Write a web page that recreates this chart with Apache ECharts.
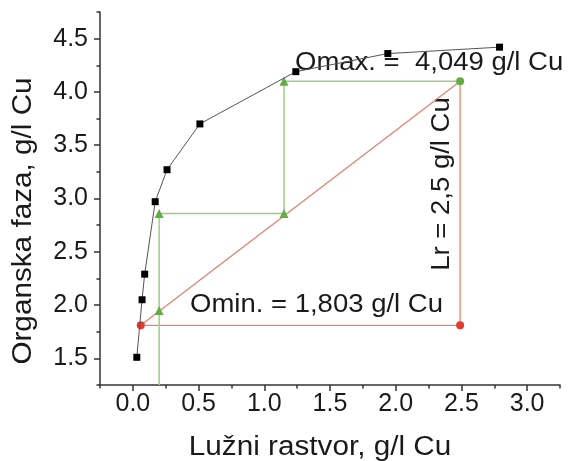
<!DOCTYPE html>
<html>
<head>
<meta charset="utf-8">
<script src="https://cdn.jsdelivr.net/npm/echarts@6/dist/echarts.min.js"></script>
<style>
  html, body { margin: 0; padding: 0; background: #fff; }
  #chart { width: 570px; height: 461px; }
</style>
</head>
<body>
<div id="chart"></div>
<script>
// equilibrium curve (black squares)
const curveX = [0.03, 0.07, 0.09, 0.17, 0.26, 0.51, 1.24, 1.94, 2.79];
const curveY = [1.51, 2.05, 2.29, 2.97, 3.27, 3.70, 4.19, 4.36, 4.42];

// operating line triangle (red): top -> Omin -> right bottom -> top
const operX = [2.49, 0.06, 2.49, 2.49];
const operY = [4.10, 1.81, 1.81, 4.10];

// steps (green)
const stepX = [0.2, 0.2, 0.2, 1.15, 1.15, 2.49];
const stepY = [1.25, 1.95, 2.86, 2.86, 4.10, 4.10];

// tick labels
const xMajor = [0.0, 0.5, 1.0, 1.5, 2.0, 2.5, 3.0];
const xMinor = [-0.25, 0.25, 0.75, 1.25, 1.75, 2.25, 2.75, 3.25];
const yMajor = [1.5, 2.0, 2.5, 3.0, 3.5, 4.0, 4.5];
const yMinor = [1.25, 1.75, 2.25, 2.75, 3.25, 3.75, 4.25, 4.75];

const labels = {
  xTitle: "Lužni rastvor, g/l Cu",
  yTitle: "Organska faza, g/l Cu",
  omax: "Omax. =  4,049 g/l Cu",
  omin: "Omin. = 1,803 g/l Cu",
  lr: "Lr = 2,5 g/l Cu",
};

const FONT = '"Liberation Sans", Arial, sans-serif';
const zip = (xs, ys) => xs.map((x, i) => [x, ys[i]]);

const chart = echarts.init(document.getElementById("chart"));

const tickStyle = { color: "#333", width: 1.5 };
const axisLine = { show: true, onZero: false, lineStyle: { color: "#333", width: 1.5 } };
const noLine = { show: false, onZero: false };

chart.setOption({
  animation: false,
  backgroundColor: "#fff",
  grid: { left: 100, right: 10, top: 12, bottom: 76, containLabel: false },
  xAxis: [
    {
      type: "value",
      position: "bottom",
      min: -0.25,
      max: 3.25,
      axisLine: axisLine,
      splitLine: { show: false },
      axisTick: { customValues: xMajor, length: 6, lineStyle: tickStyle },
      axisLabel: {
        customValues: xMajor,
        formatter: (v) => v.toFixed(1),
        fontSize: 25,
        fontFamily: FONT,
        color: "#1a1a1a",
        margin: 7,
      },
    },
    {
      type: "value",
      position: "bottom",
      min: -0.25,
      max: 3.25,
      axisLine: noLine,
      splitLine: { show: false },
      axisTick: { customValues: xMinor, length: 3.5, lineStyle: tickStyle },
      axisLabel: { show: false },
    },
  ],
  yAxis: [
    {
      type: "value",
      position: "left",
      min: 1.25,
      max: 4.75,
      axisLine: axisLine,
      splitLine: { show: false },
      axisTick: { customValues: yMajor, length: 6, lineStyle: tickStyle },
      axisLabel: {
        customValues: yMajor,
        formatter: (v) => v.toFixed(1),
        fontSize: 25,
        fontFamily: FONT,
        color: "#1a1a1a",
        margin: 12,
      },
    },
    {
      type: "value",
      position: "left",
      min: 1.25,
      max: 4.75,
      axisLine: noLine,
      splitLine: { show: false },
      axisTick: { customValues: yMinor, length: 3.5, lineStyle: tickStyle },
      axisLabel: { show: false },
    },
  ],
  graphic: [
    {
      type: "text",
      x: 320,
      y: 448,
      scaleX: 1.1,
      style: { text: labels.xTitle, font: "27px " + FONT, fill: "#1a1a1a", align: "center", verticalAlign: "middle" },
    },
    {
      type: "text",
      x: 24,
      y: 221,
      rotation: Math.PI / 2,
      scaleX: 1.1,
      style: { text: labels.yTitle, font: "27px " + FONT, fill: "#1a1a1a", align: "center", verticalAlign: "middle" },
    },
    {
      type: "text",
      x: 295,
      y: 63,
      scaleX: 1.1,
      z: 1,
      style: { text: labels.omax, font: "25px " + FONT, fill: "#1a1a1a", align: "left", verticalAlign: "middle" },
    },
    {
      type: "text",
      x: 190,
      y: 305,
      scaleX: 1.1,
      style: { text: labels.omin, font: "25px " + FONT, fill: "#1a1a1a", align: "left", verticalAlign: "middle" },
    },
    {
      type: "text",
      x: 442,
      y: 184,
      rotation: Math.PI / 2,
      scaleX: 1.1,
      style: { text: labels.lr, font: "25px " + FONT, fill: "#1a1a1a", align: "center", verticalAlign: "middle" },
    },
  ],
  series: [
    {
      type: "line",
      data: zip(operX, operY).map((p, i) => ({
        value: p,
        symbol: i === 1 || i === 2 ? "circle" : "none",
      })),
      symbolSize: 8,
      lineStyle: { color: "#e58272", width: 1.3 },
      itemStyle: { color: "#e03a32" },
      z: 2,
    },
    {
      type: "line",
      data: zip(stepX, stepY).map((p, i) => ({
        value: p,
        symbol: i === 0 ? "none" : i === stepX.length - 1 ? "circle" : "triangle",
        symbolSize: i === stepX.length - 1 ? 8 : 9,
      })),
      lineStyle: { color: "#9ccf84", width: 1.5 },
      itemStyle: { color: "#62ad45" },
      z: 3,
    },
    {
      type: "line",
      data: zip(curveX, curveY),
      symbol: "rect",
      symbolSize: 7,
      lineStyle: { color: "#555", width: 1 },
      itemStyle: { color: "#000" },
      z: 4,
    },
  ],
});
</script>
</body>
</html>
